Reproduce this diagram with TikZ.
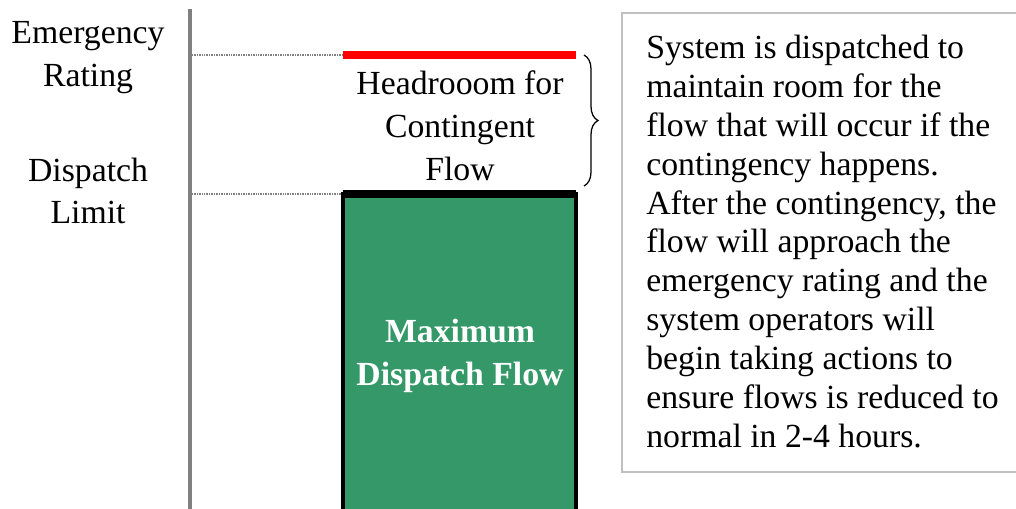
\documentclass[tikz,border=0pt]{standalone}
\usepackage{fontspec}
\setmainfont{Liberation Serif}
\usetikzlibrary{positioning, decorations.pathreplacing, calc}

\definecolor{flowgreen}{RGB}{52,152,104}
\definecolor{axisgray}{RGB}{128,128,128}
\definecolor{boxgray}{RGB}{192,192,192}

\tikzset{
	level/.style={align=center, font=\fontsize{24}{30.5}\selectfont},
	limitline/.style={axisgray, line width=1.5pt, dotted, dash pattern=on 0.6pt off 0.6pt},
	notebox/.style={draw=boxgray, line width=1.6pt, minimum width=11cm, minimum height=11.475cm, anchor=north west}
}

\begin{document}
\begin{tikzpicture}[x=0.025cm, y=-0.025cm]
		\useasboundingbox (0, 0) rectangle (1016, 508);
		% axis and level marks
		\coordinate (axtop) at (190, 9);
		\coordinate (axbot) at (190, 515);
		\draw[axisgray, line width=2.2pt] (axtop) -- (axbot);
		\coordinate (emerg) at (192, 55);
		\coordinate (disp) at (192, 194);
		\coordinate (emergend) at (343, 55);
		\coordinate (dispend) at (343, 194);
		\draw[limitline] (emerg) -- (emergend);
		\draw[limitline] (disp) -- (dispend);
		\node[level] (emlabel) at (88, 58) {Emergency\\Rating};
		\node[level] (displabel) at (88, 191) {Dispatch\\Limit};

		% bar
		\fill[flowgreen] (343, 194) rectangle (576, 520);
		\draw[line width=2.2pt] (343, 520) -- (343, 194) -- (576, 194) -- (576, 520);
		\draw[black, line width=5.5pt] (343, 194) -- (576, 194);
		\draw[red, line width=5.5pt] (343, 55) -- (576, 55);
		\node[level] (headroom) at (460, 126) {Headrooom for\\Contingent\\Flow};
		\node[level, text=white, font=\bfseries\fontsize{24}{31}\selectfont] (maxflow) at (460, 356) {Maximum\\Dispatch Flow};

		% note on the right
		\node[notebox] (note) at (621, 12) {};
		\node[anchor=west, align=left, inner sep=0pt, font=\fontsize{24}{27.6}\selectfont] (notetext) at ([xshift=0.625cm, yshift=0.03cm]note.west) {System is dispatched to\\maintain room for the\\flow that will occur if the\\contingency happens.\\After the contingency, the\\flow will approach the\\emergency rating and the\\system operators will\\begin taking actions to\\ensure flows is reduced to\\normal in 2-4 hours.};
		\coordinate (bracetop) at (584, 55);
		\coordinate (bracebot) at (584, 186);
		\draw[decorate, decoration={brace, amplitude=0.35cm}, line width=0.9pt] (bracetop) -- (bracebot);
	\end{tikzpicture}
\end{document}
